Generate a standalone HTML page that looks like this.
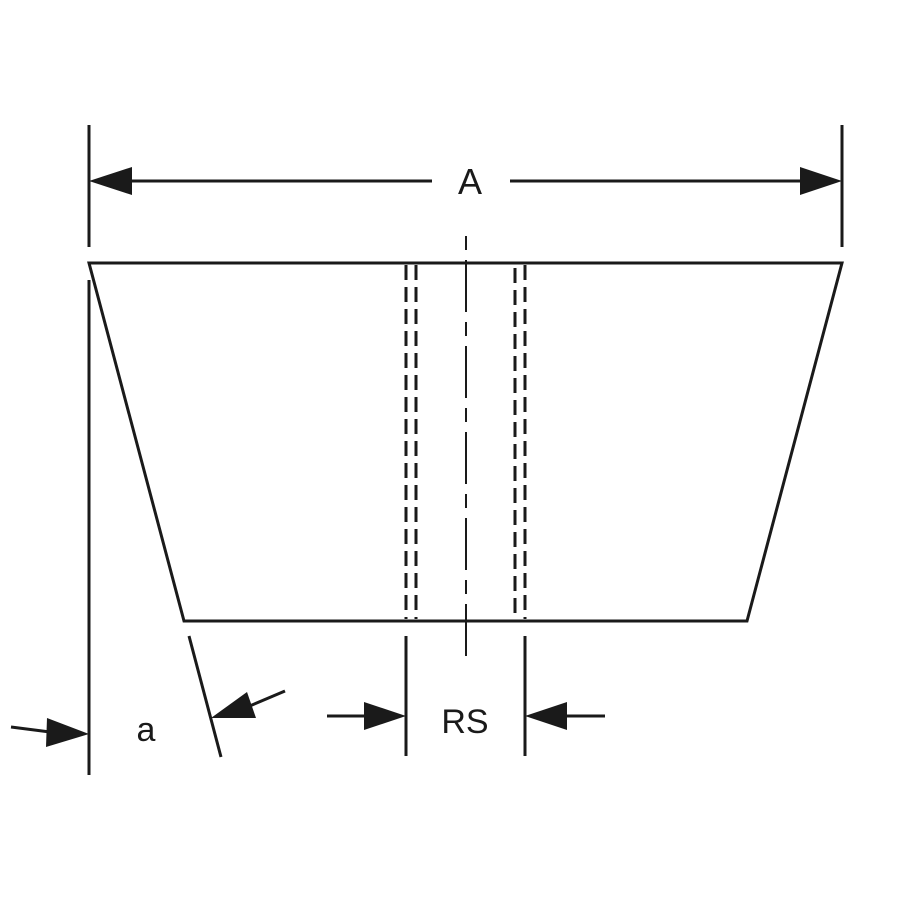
<!DOCTYPE html>
<html><head><style>body{margin:0;background:#fff}svg{display:block}</style></head><body>
<svg width="900" height="900" viewBox="0 0 900 900" xmlns="http://www.w3.org/2000/svg">
<g stroke="#1a1a1a" fill="none" stroke-width="3">
<polygon points="89,263 842,263 747,621 184,621"/>
<line x1="89" y1="125" x2="89" y2="247"/>
<line x1="842" y1="125" x2="842" y2="247"/>
<line x1="130" y1="181" x2="432" y2="181"/>
<line x1="510" y1="181" x2="802" y2="181"/>
<line x1="89" y1="280" x2="89" y2="775"/>
<line x1="189" y1="636" x2="221" y2="757"/>
<path d="M11,727 Q35,730 50,732"/>
<line x1="285" y1="691" x2="245" y2="708"/>
<line x1="406" y1="636" x2="406" y2="756"/>
<line x1="525" y1="636" x2="525" y2="756"/>
<line x1="327" y1="716" x2="370" y2="716"/>
<line x1="563" y1="716" x2="605" y2="716"/>
<g stroke-dasharray="15 7">
<line x1="406" y1="265" x2="406" y2="619"/>
<line x1="416" y1="265" x2="416" y2="619"/>
<line x1="515" y1="268" x2="515" y2="619"/>
<line x1="525" y1="265" x2="525" y2="619"/>
</g>
<line x1="466" y1="236" x2="466" y2="662" stroke-width="2" stroke-dasharray="14 10 52 10"/>
</g>
<g fill="#1a1a1a">
<polygon points="89,181 132,167 132,195"/>
<polygon points="842,181 800,167 800,195"/>
<polygon points="89,734 47,718 46,747"/>
<polygon points="211,718 247,692 256,718"/>
<polygon points="406,716 364,702 364,730"/>
<polygon points="525,716 567,702 567,730"/>
</g>
<g font-family="Liberation Sans, sans-serif" fill="#1a1a1a" text-anchor="middle">
<text x="470" y="194" font-size="36">A</text>
<text x="465" y="733" font-size="34">RS</text>
<text x="146" y="741" font-size="34">a</text>
</g>
</svg>
</body></html>
